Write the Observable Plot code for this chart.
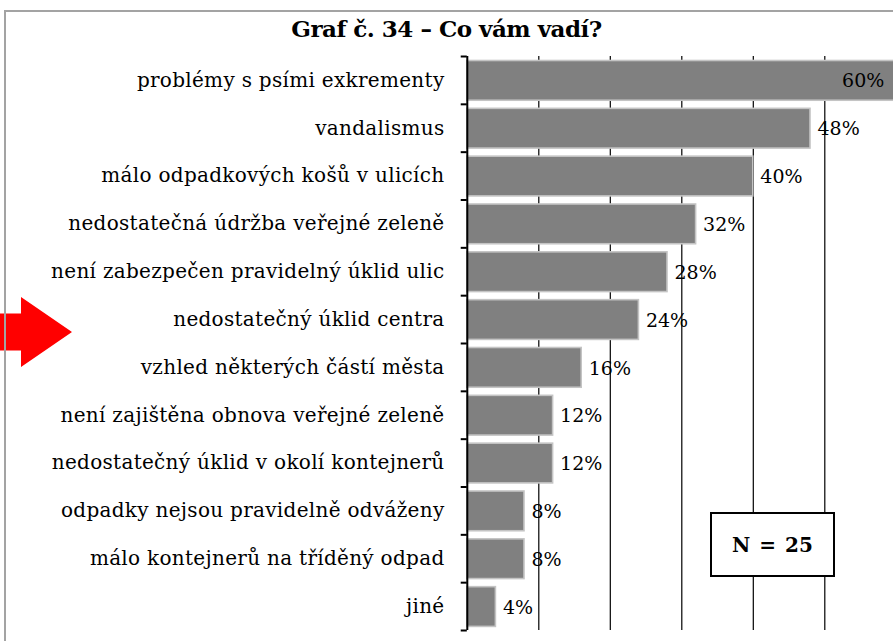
<!DOCTYPE html>
<html><head><meta charset="utf-8">
<script src="https://cdn.jsdelivr.net/npm/d3@7"></script>
<script src="https://cdn.jsdelivr.net/npm/@observablehq/plot@0.6"></script>
<style>
html,body{margin:0;padding:0;background:#fff;overflow:hidden;}
#wrap{position:relative;width:893px;height:641px;overflow:hidden;}
#frame{position:absolute;left:4px;top:10px;width:1000px;height:1000px;border:2px solid #a3a3a3;pointer-events:none;z-index:3;}
#title{position:absolute;left:0;top:0;width:893px;height:56px;}
#title span{position:absolute;left:0;width:893px;top:17px;text-align:center;font-family:"DejaVu Serif",serif;font-weight:bold;font-size:23px;line-height:24px;letter-spacing:-0.5px;}
#plot{position:absolute;left:0;top:56px;}
#plot svg, #plot svg text{font-family:"DejaVu Serif",serif !important;}
#plot svg g[aria-label="y-axis tick label"] text{letter-spacing:0.3px;}
#nbox{position:absolute;left:710px;top:512px;width:125px;height:65px;box-sizing:border-box;border:2px solid #000;background:#fff;font-family:"DejaVu Serif",serif;font-weight:bold;font-size:20px;display:flex;align-items:center;justify-content:center;z-index:2;word-spacing:2px;}
</style>
</head><body>
<div id="wrap">
  <div id="title"><span>Graf č. 34 – Co vám vadí?</span></div>
  <div id="plot"></div>
  <div id="nbox">N = 25</div>
  <div id="frame"></div>
</div>
<script>
const categories = [
  "problémy s psími exkrementy",
  "vandalismus",
  "málo odpadkových košů v ulicích",
  "nedostatečná údržba veřejné zeleně",
  "není zabezpečen pravidelný úklid ulic",
  "nedostatečný úklid centra",
  "vzhled některých částí města",
  "není zajištěna obnova veřejné zeleně",
  "nedostatečný úklid v okolí kontejnerů",
  "odpadky nejsou pravidelně odváženy",
  "málo kontejnerů na tříděný odpad",
  "jiné"
];
const values = [60, 48, 40, 32, 28, 24, 16, 12, 12, 8, 8, 4];
const gridTicks = [10, 20, 30, 40, 50, 60];
const highlighted = "nedostatečný úklid centra";

const data = categories.map((c, i) => ({category: c, value: values[i]}));

const W = 893, H = 585, mT = 0, mB = 11, mL = 467;
const bw = (H - mT - mB) / categories.length;
const serif = "'DejaVu Serif', serif";

const chart = Plot.plot({
  width: W,
  height: H,
  marginTop: mT,
  marginBottom: mB,
  marginLeft: mL,
  marginRight: 0,
  style: {background: "transparent", fontFamily: serif, fontSize: "19px", color: "#000", overflow: "visible"},
  x: {domain: [0, 60], range: [466.8, 895.8], axis: null},
  y: {domain: categories, padding: 0, round: false, axis: null},
  marks: [
    Plot.ruleX(gridTicks, {stroke: "#000", strokeWidth: 1.2}),
    Plot.barX(data, {x: "value", y: "category", fill: "#808080", stroke: "#c4c4c4", strokeWidth: 1.6, insetTop: 4.5, insetBottom: 3.6}),
    Plot.ruleX([0], {stroke: "#000", strokeWidth: 2}),
    Plot.ruleY(categories, {y: d => d, x1: -0.85, x2: 0, dy: -bw / 2, stroke: "#000", strokeWidth: 2}),
    Plot.ruleY(categories.slice(-1), {y: d => d, x1: -0.85, x2: 0, dy: bw / 2, stroke: "#000", strokeWidth: 2}),
    Plot.axisY({tickSize: 0, tickPadding: 23, label: null, fontSize: 20, fontFamily: serif}),
    Plot.text(data.filter(d => d.value < 55), {x: "value", y: "category", text: d => d.value + "%", textAnchor: "start", dx: 7, dy: 1, fontSize: 19, fontFamily: serif, fill: "#000"}),
    Plot.text(data.filter(d => d.value >= 55), {x: "value", y: "category", text: d => d.value + "%", textAnchor: "end", dx: -12, fontSize: 19, fontFamily: serif, fill: "#000"})
  ]
});
document.getElementById("plot").appendChild(chart);

// red arrow pointing at the highlighted category
const ys = chart.scale("y");
const cy = ys.apply(highlighted) + ys.bandwidth / 2 + 13;
const pts = [[0, cy - 18.5], [21, cy - 18.5], [21, cy - 35], [72, cy], [21, cy + 35], [21, cy + 18.5], [0, cy + 18.5]];
d3.select(chart).append("polygon")
  .attr("points", pts.map(p => p.join(",")).join(" "))
  .attr("fill", "#ff0000");
</script>
</body></html>
